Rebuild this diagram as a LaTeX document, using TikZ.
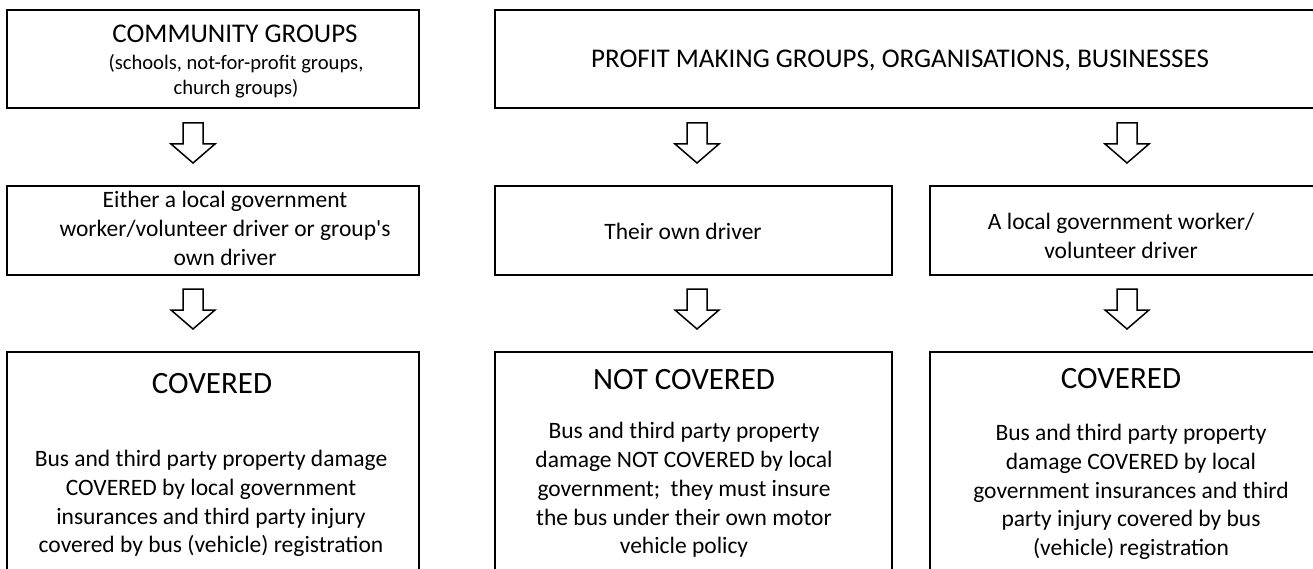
\documentclass[tikz,border=0pt]{standalone}
\usepackage{fontspec}
\setmainfont{Carlito}
\tikzset{
  box/.style={draw, line width=2pt, fill=white, inner sep=0pt},
  txt/.style={align=center, inner sep=0pt, font=\fontsize{23.5}{28.8}\selectfont},
  sub/.style={align=center, inner sep=0pt, font=\fontsize{20.6}{24.6}\selectfont},
  tophead/.style={inner sep=0pt, font=\fontsize{27}{32}\selectfont},
  head/.style={inner sep=0pt, font=\fontsize{31}{37}\selectfont},
  pics/downarrow/.style={code={
    \draw[line width=1.5pt, fill=white, line join=miter]
      (-10,0) -- (10,0) -- (10,21) -- (22,21) -- (0,40) -- (-22,21) -- (-10,21) -- cycle;
  }}
}
\begin{document}
\begin{tikzpicture}[x=1pt, y=-1pt]
	\useasboundingbox (0,0) rectangle (1313,569);
	\clip (0,0) rectangle (1313,569);
	
	\node[box, minimum width=412pt, minimum height=98pt] (comm) at (213,59) {};
	\node[box, minimum width=835pt, minimum height=98pt] (profit) at (912.5,59) {};
	\node[tophead] (commhead) at (235,34) {COMMUNITY GROUPS};
	\node[sub] (commsub) at (236,76.5) {(schools, not-for-profit groups,\\church groups)};
	\node[tophead] (profithead) at (900,60) {PROFIT MAKING GROUPS, ORGANISATIONS, BUSINESSES};
	
	\pic (arr1) at (193,123) {downarrow};
	\pic (arr2) at (697,123) {downarrow};
	\pic (arr3) at (1127,123) {downarrow};
	
	\node[box, minimum width=412pt, minimum height=89pt] (either) at (213,230.5) {};
	\node[box, minimum width=397pt, minimum height=89pt] (own) at (693.5,230.5) {};
	\node[box, minimum width=395pt, minimum height=89pt] (local) at (1127.5,230.5) {};
	\node[txt] (eithertxt) at (225,228.5) {Either a local government\\worker/volunteer driver or group\textquotesingle s\\own driver};
	\node[txt] (owntxt) at (683,231) {Their own driver};
	\node[txt] (localtxt) at (1121,236) {A local government worker/\\volunteer driver};
	
	\pic (arr4) at (193,289) {downarrow};
	\pic (arr5) at (697,289) {downarrow};
	\pic (arr6) at (1127,289) {downarrow};
	
	\node[box, minimum width=412pt, minimum height=268pt] (cov1) at (213,486) {};
	\node[box, minimum width=397pt, minimum height=268pt] (notcov) at (693.5,486) {};
	\node[box, minimum width=395pt, minimum height=268pt] (cov2) at (1127.5,486) {};
	\node[head] (cov1head) at (212,384) {COVERED};
	\node[head] (notcovhead) at (684,380) {NOT COVERED};
	\node[head] (cov2head) at (1121,379) {COVERED};
	\node[txt] (cov1txt) at (211,503.5) {Bus and third party property damage\\COVERED by local government\\insurances and third party injury\\covered by bus (vehicle) registration};
	\node[txt] (notcovtxt) at (684,490) {Bus and third party property\\damage NOT COVERED by local\\government;\ \ they must insure\\the bus under their own motor\\vehicle policy};
	\node[txt] (cov2txt) at (1131,492) {Bus and third party property\\damage COVERED by local\\government insurances and third\\party injury covered by bus\\(vehicle) registration};
	
\end{tikzpicture}
\end{document}
